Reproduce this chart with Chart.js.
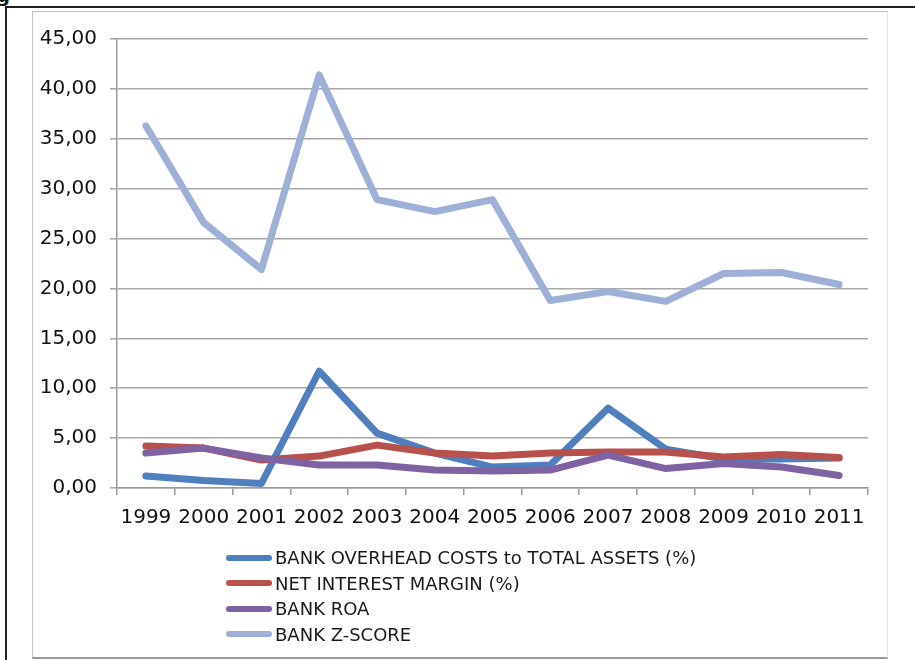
<!DOCTYPE html>
<html>
<head>
<meta charset="utf-8">
<script src="https://cdn.jsdelivr.net/npm/chart.js@4/dist/chart.umd.min.js"></script>
<style>
  html, body { margin: 0; padding: 0; background: #fff; }
  body { width: 915px; height: 660px; position: relative; overflow: hidden; font-family: "DejaVu Sans", sans-serif; }
  .frame-top { position: absolute; left: 5px; top: 6px; width: 910px; height: 2px; background: #222; }
  .frame-left { position: absolute; left: 5px; top: 6px; width: 2px; height: 654px; background: #222; }
  .box { position: absolute; left: 32px; top: 11px; width: 854px; height: 645px; border: 1px solid #c4c4c4; border-bottom: 2px solid #999; border-right-color: #e6e6e6; }
  .corner-glyph { position: absolute; left: -3px; top: -15px; font-size: 18px; font-weight: bold; color: #111; }
  #chart { position: absolute; left: 0; top: 0; }
  #legend { position: absolute; left: 226px; top: 545px; }
  .item { height: 25.5px; display: flex; align-items: center; font-size: 18px; color: #1a1a1a; white-space: nowrap; }
  .swatch { width: 46px; height: 6px; border-radius: 3px; margin-right: 3px; }
</style>
</head>
<body>
<div class="corner-glyph">g</div>
<div class="frame-top"></div>
<div class="frame-left"></div>
<div class="box"></div>
<canvas id="chart" width="915" height="660"></canvas>
<div id="legend"></div>
<script>
// Years on the category axis
const years = ['1999', '2000', '2001', '2002', '2003', '2004', '2005', '2006', '2007', '2008', '2009', '2010', '2011'];

// Series values
const overheadCosts = [1.2, 0.75, 0.45, 11.7, 5.5, 3.5, 2.1, 2.3, 8.0, 3.9, 2.9, 2.9, 3.0];
const netInterestMargin = [4.2, 4.0, 2.8, 3.2, 4.3, 3.5, 3.2, 3.5, 3.6, 3.6, 3.1, 3.35, 3.05];
const bankRoa = [3.5, 4.0, 3.0, 2.3, 2.3, 1.8, 1.7, 1.8, 3.3, 1.95, 2.45, 2.1, 1.25];
const bankZScore = [36.3, 26.6, 21.9, 41.4, 28.9, 27.7, 28.9, 18.8, 19.7, 18.7, 21.5, 21.6, 20.4];

// Series names
const seriesNames = [
  'BANK OVERHEAD COSTS to TOTAL ASSETS (%)',
  'NET INTEREST MARGIN (%)',
  'BANK ROA',
  'BANK Z-SCORE'
];

// Value axis range
const yMin = 0;
const yMax = 45;
const yStep = 5;

const colors = ['#4f7fbc', '#b8504b', '#7e62a1', '#9eb0d7'];
const values = [overheadCosts, netInterestMargin, bankRoa, bankZScore];

const datasets = seriesNames.map((name, i) => ({
  label: name,
  data: values[i],
  borderColor: colors[i],
  backgroundColor: colors[i],
  borderWidth: 7,
  borderCapStyle: 'round',
  borderJoinStyle: 'round',
  pointRadius: 0,
  pointHoverRadius: 0,
  tension: 0,
  fill: false,
  order: seriesNames.length - i   // later series paint over earlier ones
}));

const FONT = '"DejaVu Sans", sans-serif';

new Chart(document.getElementById('chart'), {
  type: 'line',
  data: { labels: years, datasets },
  options: {
    responsive: false,
    animation: false,
    events: [],
    layout: { padding: { left: 0, top: 39, right: 47, bottom: 132 } },
    plugins: {
      legend: { display: false },
      tooltip: { enabled: false },
      title: { display: false }
    },
    scales: {
      x: {
        offset: true,
        afterFit: (scale) => { scale.height = 40; },
        grid: {
          offset: true,
          drawOnChartArea: false,
          drawTicks: true,
          tickLength: 7,
          color: '#9a9a9a',
          lineWidth: 1.5
        },
        border: { display: true, color: '#9a9a9a', width: 1.5 },
        ticks: {
          color: '#111',
          font: { family: FONT, size: 20 },
          padding: 11,
          maxRotation: 0,
          autoSkip: false
        }
      },
      y: {
        min: yMin,
        max: yMax,
        afterFit: (scale) => { scale.width = 117; },
        grid: {
          drawTicks: true,
          tickLength: 7,
          color: '#a8a8a8',
          lineWidth: 1.6
        },
        border: { display: true, color: '#9a9a9a', width: 1.5 },
        ticks: {
          stepSize: yStep,
          color: '#111',
          padding: 13,
          font: { family: FONT, size: 20 },
          callback: (v) => Number(v).toFixed(2).replace('.', ',')
        }
      }
    }
  }
});

// Legend: one series per row below the plot
const legend = document.getElementById('legend');
seriesNames.forEach((name, i) => {
  const row = document.createElement('div');
  row.className = 'item';
  const sw = document.createElement('span');
  sw.className = 'swatch';
  sw.style.background = colors[i];
  const txt = document.createElement('span');
  txt.textContent = name;
  row.appendChild(sw);
  row.appendChild(txt);
  legend.appendChild(row);
});
</script>
</body>
</html>
